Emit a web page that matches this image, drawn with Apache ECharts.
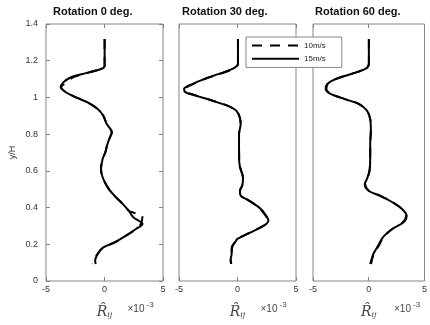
<!DOCTYPE html>
<html><head><meta charset="utf-8">
<script src="https://cdn.jsdelivr.net/npm/echarts@6/dist/echarts.min.js"></script>
<style>html,body{margin:0;padding:0;background:#fff}#c{width:430px;height:325px}</style>
</head><body><div id="c"></div>
<script>
// ---- data ----
const titles = ['Rotation 0 deg.', 'Rotation 30 deg.', 'Rotation 60 deg.'];
const seriesNames = ['10m/s', '15m/s'];
const xTicks = [-5, 0, 5];
const yTicks = [0, 0.2, 0.4, 0.6, 0.8, 1, 1.2, 1.4];

const y0 = [1.318,1.173,1.155,1.128,1.11,1.082,1.055,1.028,1.0,0.973,0.937,0.90,0.855,0.81,0.774,0.737,0.70,0.665,0.61,0.565,0.51,0.465,0.42,0.383,0.347,0.31,0.283,0.247,0.21,0.183,0.147,0.11,0.093];
const x0_15 = [0.01,0.01,-0.3,-1.87,-2.86,-3.52,-3.75,-3.29,-2.44,-1.44,-0.58,-0.1,0.19,0.64,0.41,0.21,0.07,-0.16,-0.3,-0.16,0.27,0.84,1.55,2.07,2.46,3.25,2.69,1.84,0.84,-0.1,-0.58,-0.8,-0.75];
const y0d = [1.318,1.173,1.155,1.128,1.11,1.082,1.055,1.028,1.0,0.973,0.937,0.90,0.855,0.81,0.774,0.737,0.70,0.665,0.61,0.565,0.51,0.465,0.42,0.383,0.372,0.355,0.31,0.283,0.247,0.21,0.183,0.147,0.11,0.093];
const x0_10 = [0.01,0.01,-0.3,-1.8,-2.7,-3.25,-3.7,-3.3,-2.44,-1.44,-0.58,-0.1,0.19,0.6,0.41,0.21,0.07,-0.16,-0.3,-0.16,0.27,0.84,1.55,2.07,2.5,3.25,3.1,2.69,1.84,0.9,-0.1,-0.6,-0.95,-1.05];

const y30 = [1.318,1.182,1.155,1.128,1.10,1.073,1.046,1.028,1.01,0.982,0.955,0.928,0.892,0.855,0.80,0.746,0.674,0.62,0.565,0.52,0.492,0.465,0.438,0.401,0.365,0.329,0.301,0.265,0.229,0.211,0.183,0.147,0.12,0.093];
const x30_15 = [0.04,0.04,-0.44,-1.58,-2.86,-3.86,-4.57,-4.43,-3.58,-2.15,-0.87,-0.1,0.19,0.27,0.13,0.13,0.13,0.21,0.47,0.41,0.21,0.27,0.98,1.84,2.35,2.64,2.26,1.13,-0.01,-0.21,-0.5,-0.5,-0.58,-0.53];
const x30_10 = [0.04,0.04,-0.4,-1.5,-2.8,-3.8,-4.45,-4.3,-3.5,-2.1,-0.85,-0.1,0.19,0.27,0.13,0.13,0.15,0.23,0.45,0.4,0.21,0.3,1.0,1.8,2.3,2.6,2.2,1.1,0.0,-0.25,-0.45,-0.52,-0.6,-0.55];

const y60 = [1.318,1.182,1.155,1.128,1.10,1.073,1.046,1.019,0.991,0.964,0.928,0.882,0.819,0.746,0.674,0.601,0.556,0.528,0.492,0.465,0.429,0.392,0.356,0.32,0.283,0.238,0.192,0.147,0.093];
const x60_15 = [0.01,0.01,-0.3,-1.58,-3.0,-3.72,-3.86,-3.43,-2.15,-0.87,-0.16,0.13,0.19,0.13,0.13,0.07,-0.16,-0.36,-0.01,0.98,2.12,2.98,3.4,3.12,2.12,1.27,0.84,0.41,0.13];
const x60_10 = [0.01,0.01,-0.3,-1.55,-2.95,-3.65,-3.8,-3.4,-2.1,-0.85,-0.16,0.13,0.19,0.13,0.13,0.07,-0.14,-0.33,0.0,1.0,2.15,3.0,3.35,3.05,2.1,1.3,0.9,0.45,0.2];

// ---- layout ----
const grids = [
  {left: 46, top: 24, width: 117, height: 257},
  {left: 179, top: 24, width: 117, height: 257},
  {left: 313, top: 24, width: 116, height: 257}
];
const frameColor = '#858585';
const textColor = '#333';
const FONT = '"Liberation Sans", Arial, sans-serif';

const zip = (xs, ys) => xs.map((x, i) => [x, ys[i]]);
const panels = [
  {d10: zip(x0_10, y0d), d15: zip(x0_15, y0)},
  {d10: zip(x30_10, y30), d15: zip(x30_15, y30)},
  {d10: zip(x60_10, y60), d15: zip(x60_15, y60)}
];

const xAxis = [], yAxis = [], series = [], title = [], graphic = [];
const titleLeft = [53, 182, 315];
grids.forEach((g, i) => {
  const tickStyle = {show: true, inside: true, length: 4, lineStyle: {color: frameColor}};
  const noLine = {show: false, onZero: false};
  xAxis.push({gridIndex: i, type: 'value', min: -5, max: 5, interval: 5, position: 'bottom',
    axisLine: noLine, axisTick: tickStyle, splitLine: {show: false},
    axisLabel: {fontSize: 9, color: textColor, fontFamily: FONT, margin: 4,
      formatter: v => xTicks.includes(v) ? String(v) : ''},
    name: '{R|R\u0302}{s|ij}', nameLocation: 'middle', nameGap: 24,
    nameTextStyle: {rich: {
      R: {fontFamily: '"DejaVu Serif", serif', fontStyle: 'italic', fontSize: 14, color: '#444'},
      s: {fontFamily: '"DejaVu Serif", serif', fontStyle: 'italic', fontSize: 8, color: '#444', padding: [6, 0, 0, 0]}
    }}
  });
  xAxis.push({gridIndex: i, type: 'value', min: -5, max: 5, interval: 5, position: 'top',
    axisLine: noLine, axisTick: tickStyle, axisLabel: {show: false}, splitLine: {show: false}});
  yAxis.push({gridIndex: i, type: 'value', min: 0, max: 1.4, interval: 0.2, position: 'left',
    axisLine: noLine, axisTick: i === 0 ? tickStyle : {show: false}, splitLine: {show: false},
    axisLabel: {show: i === 0, fontSize: 9, color: textColor, fontFamily: FONT, margin: 8,
      formatter: v => String(+v.toFixed(1))},
    name: i === 0 ? 'y/H' : '', nameLocation: 'middle', nameGap: 29,
    nameTextStyle: {fontSize: 9, color: textColor, fontFamily: FONT}
  });
  yAxis.push({gridIndex: i, type: 'value', min: 0, max: 1.4, interval: 0.2, position: 'right',
    axisLine: noLine, axisTick: i === 0 ? tickStyle : {show: false},
    axisLabel: {show: false}, splitLine: {show: false}});
  title.push({text: titles[i], left: titleLeft[i], top: 6, padding: 0,
    textStyle: {fontSize: 11, fontWeight: 'bold', color: '#111', fontFamily: FONT}});
  const p = panels[i];
  series.push({name: seriesNames[0], type: 'line', xAxisIndex: 2 * i, yAxisIndex: 2 * i,
    data: p.d10, symbol: 'none', smooth: 0.3, lineStyle: {color: '#000', width: 2, type: [10, 8]}, itemStyle: {color: '#000'}, z: 3});
  series.push({name: seriesNames[1], type: 'line', xAxisIndex: 2 * i, yAxisIndex: 2 * i,
    data: p.d15, symbol: 'none', smooth: 0.3, lineStyle: {color: '#000', width: 2, type: 'solid'}, itemStyle: {color: '#000'}, z: 2});
  const cx = g.left + g.width / 2;
  graphic.push({type: 'text', left: cx + 23, top: 301,
    style: {text: '\u00d710{sup|-3}', fill: '#444', font: '10px ' + FONT,
      rich: {sup: {fontSize: 8, fill: '#444', fontFamily: FONT, padding: [0, 0, 8, 2]}}}});
});

const chart = echarts.init(document.getElementById('c'), null, {renderer: 'canvas'});
chart.setOption({
  animation: false,
  backgroundColor: '#fff',
  title,
  grid: grids.map(g => Object.assign({show: true, borderColor: frameColor, borderWidth: 1, backgroundColor: 'transparent'}, g)),
  xAxis, yAxis, series, graphic,
  legend: {data: seriesNames, orient: 'vertical', left: 246, top: 37, itemWidth: 47, itemHeight: 14, itemGap: 2,
    itemStyle: {opacity: 0, borderWidth: 0},
    padding: [3, 16, 3, 5], backgroundColor: '#fff', borderColor: frameColor, borderWidth: 1,
    textStyle: {fontSize: 8, color: '#222', fontFamily: FONT}, selectedMode: false}
});
</script></body></html>
